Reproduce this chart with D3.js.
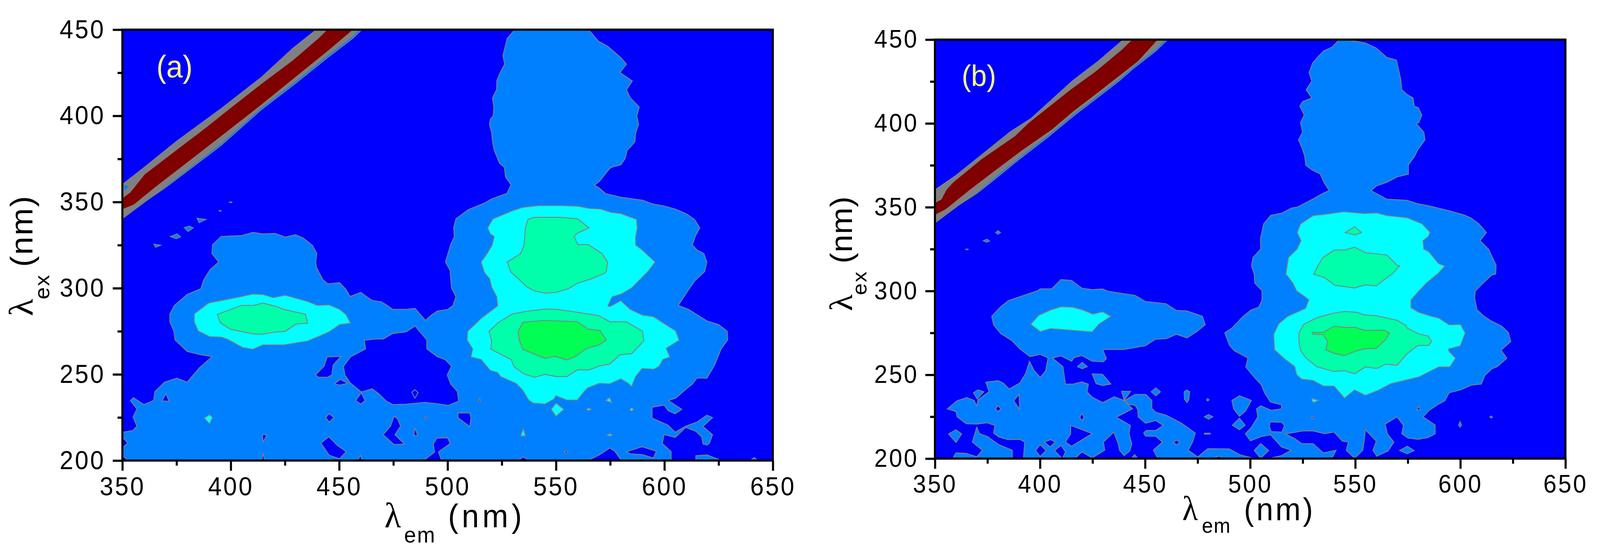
<!DOCTYPE html>
<html><head><meta charset="utf-8">
<script src="https://cdnjs.cloudflare.com/ajax/libs/d3/7.8.5/d3.min.js"></script>
<style>html,body{margin:0;padding:0;background:#fff;overflow:hidden;width:100%;height:100%}svg{display:block;width:100vw;height:100vh}text{font-family:"Liberation Sans",Arial,sans-serif;fill:#000}</style>
</head><body><svg id="c" viewBox="0 0 4328 1422" preserveAspectRatio="none"></svg>
<script>
// Contour outlines, as [emission nm, excitation nm] pairs.
const xMajor=[350,400,450,500,550,600,650], xMinor=[375,425,475,525,575,625];
const yMajor=[200,250,300,350,400,450], yMinor=[225,275,325,375,425];
const colors={bg:"#0000ff",l1:"#0080ff",l2:"#00ffff",l3:"#00ffaa",l4:"#00ff55",grey:"#808080",red:"#800000",line:"#808080",tag:"#ffff80"};

const aLevel1=[
[[531,450],[527.5,445],[525.5,435],[526.3,430],[524.2,425],[522.7,420.5],[522.6,415.3],[520.7,410.4],[521.3,405],[521,400],[519.7,398],[519.3,395],[520.3,390.3],[520.7,385],[521.5,380],[523.9,372.6],[526.2,370],[526.7,364.5],[529.2,360],[527.4,355],[520.3,351.8],[516.7,349.2],[509.6,345.6],[503.8,340.2],[502.8,335.2],[503.1,330],[501.4,325.3],[499,315.2],[501.2,310.2],[501.2,308.6],[501.8,300.2],[503.8,295],[502.4,289.8],[500,287.7],[495.2,286.7],[492.2,284.1],[489.8,281.3],[485,288.3],[480.9,287.7],[474.7,287.7],[471.8,290.3],[469.4,292.1],[465.2,292.9],[462.2,295.5],[460,297.6],[455,295.2],[453.2,299.2],[450.2,303.2],[444.8,302.5],[442.5,304.9],[440.9,308.6],[439.5,312.3],[439.2,315.4],[439.7,320.1],[437.7,324.8],[433.5,329],[429.9,331],[425.1,329.7],[420.3,331.8],[414.9,331.5],[410.2,332.4],[404.8,330.5],[395.6,330],[391.6,325.3],[391.3,320.1],[394.4,315.2],[390.4,310.7],[387.4,304.5],[386.2,299.7],[379.9,296.4],[373.9,289.9],[371.9,285.1],[371.9,280.4],[373.7,275.2],[374.3,270],[379.9,263.3],[385.6,261.5],[391.4,260.3],[385.6,253.9],[379.9,245.5],[375.1,247.8],[369.5,245.5],[365,240],[364.4,234.8],[359.9,232.5],[355.1,236.5],[353.7,234.8],[356.7,229.9],[354.9,225.2],[356.7,220],[354.8,217.4],[350,216.4],[350,200],[603.1,200],[603.1,205.2],[599,209.9],[599.9,215.1],[605,213.4],[609.8,219.2],[614.6,216.9],[617.2,213.8],[617.8,209.6],[619.6,209],[620.8,210.1],[622.2,215],[617.8,219.8],[622.2,224.9],[619.6,226.3],[615,222.3],[609.8,220],[605,216.4],[601.7,220.5],[594.3,224.7],[594.3,230.9],[599.9,232.2],[601.7,228.9],[605,227.1],[608,229.7],[601.9,234.8],[605.2,236.2],[609.4,240.8],[613,244.5],[615,247.9],[619.6,247.8],[623.2,255.4],[626.2,264.8],[629.2,270],[629,275],[625,278.9],[619.6,281],[611.2,287.7],[606.4,290],[611.2,299.2],[614.2,304.5],[618.6,309.7],[619.6,315.2],[618.2,320.1],[615,322.2],[612.9,325.1],[614.2,330],[616.3,335],[613.9,339.9],[610.1,343.2],[605.2,345.8],[599.9,347.7],[594.5,348.9],[590,351],[579.5,352.9],[572.9,354.9],[570,358],[567.8,359.8],[570,361.9],[574.8,369.5],[576,370.3],[579.9,371.6],[581.9,375.2],[582.8,379.9],[586.4,384.9],[586.8,390.3],[588.1,395],[587.3,399.9],[588.4,405.1],[584.3,410.4],[582.5,415.1],[585.2,420.2],[579.5,425.1],[582.5,430],[579.9,433.8],[574,440.2],[569.6,443.3],[565,450]],
[[614.5,200],[614.5,202.8],[619.6,203.3],[625,200.7],[625,200]],
[[639.6,200],[641.4,201.8],[643,200]],
[[384.4,340.6],[388.6,339.9],[385.4,338]],
[[378.5,335.2],[380.9,336],[382.7,335],[380.3,332.9]],
[[372.1,330],[375.2,331.5],[376.9,329.8],[374.9,328.7]],
[[364.5,325.6],[367.7,324.9],[365.3,323.7]],
[[399.4,350],[400.7,350],[400,349.5]],
[[394.6,345],[395.6,345],[395.1,344.5]]
];
const aHoles=[
[[455.2,260.1],[462.2,264.8],[461.6,269.8],[466.9,270.5],[470.3,270.5],[474.7,273.7],[480.9,274.7],[485,278],[490.4,270],[490.4,264.8],[495.2,260.3],[498.8,258.6],[501.8,254.7],[499.8,249.7],[501.4,244.5],[504.5,240],[505.1,234.4],[500.2,232],[495.2,233],[489.2,233.8],[480.9,232.7],[474.7,232.5],[471.8,234.4],[468.2,238.8],[465.2,241.6],[460.2,239.8],[455.2,245],[452.6,249.7],[452,254.7]],
[[444.5,260.1],[450.8,260.4],[447.2,255.4],[446.6,249.7],[444.8,248.4],[440.4,248.3],[439.1,249.7],[443,254.7]],
[[450.5,247.1],[454,244.8],[450.2,243.8],[447.8,244.5]],
[[460.2,239.3],[461.9,234.8],[460,232.8],[457.6,234.8]],
[[370.1,238.8],[371.5,234.4],[368.3,234.6]],
[[445.4,227.1],[447.6,225],[445.4,222.3],[443.8,225]],
[[475.3,225.7],[476.9,224.2],[478.3,220],[475.7,215],[480.1,209.6],[475.3,209.3],[470.3,215],[473.7,220]],
[[414.6,215.1],[416.7,214.8],[414.9,210.9]],
[[445.2,213.8],[449,208.9],[453.2,205.2],[450.2,201],[445.4,203.1],[441.6,210.1]],
[[414.9,204.4],[415.5,200],[414.3,200]],
[[459.8,203.1],[460.6,200],[458.6,200]],
[[350,213.8],[352.5,210.1],[350,207.5]],
[[350,203],[352.7,200],[350,200]],
[[484.9,241.1],[486.4,239.3],[484.9,236.2],[483.5,239.6]],
[[504.8,227.6],[510.2,227.6],[510.8,224.7],[510.2,219.7],[504.8,224.9]],
[[484.8,219],[486.2,214.5],[484.5,214.5]],
[[495,213],[500,213.2],[501.2,209.9],[495.8,205],[497.2,200],[489,200],[494,204.9],[493.4,209.6]],
[[534.9,202.1],[537.7,200],[532.3,200]],
[[574.8,207.3],[577.1,205.4],[580.1,200],[564.6,200],[570,203.3]],
[[582.5,205.1],[589.7,208],[596.3,205.4],[594.8,201.5],[589.7,203.5],[584.3,203.9]],
[[489.2,224.9],[489.8,225.5],[490.5,224.9],[489.8,224.2]],
[[514.9,236],[515.2,234.2],[514.2,234.6]],
[[553.8,204.9],[554.7,205.4],[555.6,204.9],[554.7,204.1]]
];
const aLevel2=[
[[383.2,285.1],[389.8,291.4],[403.6,294.8],[410.2,296.6],[414.9,296.3],[419.7,294.5],[425.1,295.9],[435.2,292.4],[440,290],[445.4,290.3],[450.2,287.7],[453.2,284.6],[455.2,279.7],[450.2,278.9],[445.4,274.7],[440.7,272.1],[435.3,269.3],[424.5,267.1],[414.9,267.1],[410.2,264.6],[405.4,265.6],[398.8,270.2],[395.8,271.6],[390.2,271.9],[385,275.2],[383.2,280.4]],
[[520.9,340.2],[530.1,345],[534.7,346.9],[541.9,347.9],[552.6,347.9],[560.4,347.5],[565.2,346.3],[570.6,345.9],[575.3,344],[579.9,343.3],[587.1,339.9],[587.5,335],[586.7,330],[586.7,325.1],[589.7,322.2],[595.7,315.2],[592.7,310.2],[591.5,308.6],[584.9,300.2],[580.1,296.6],[575.9,295],[573.9,289.8],[574.8,289.3],[579.9,292.7],[584.3,287.7],[589.7,284.4],[595.1,283.4],[599.3,279.9],[605.2,275.2],[606.8,269.8],[600.8,265.1],[602.5,260.1],[599.3,258.6],[597.5,254.6],[595.1,253],[589.7,253.4],[586.7,248.7],[584.9,243.1],[583.1,245],[579.9,247.4],[574.8,244.5],[570,244.8],[564.6,242.2],[562.8,239.8],[559.8,235.1],[554.8,235.1],[549.9,237.7],[549,235.6],[544.9,232.8],[539.5,233.3],[537.4,235.1],[534.7,240.8],[531.7,244.7],[524.5,248.7],[523,251.1],[519.7,252.3],[515.5,258.6],[510.8,260.1],[511.6,264.8],[509,270],[509.3,275],[515.5,282.5],[523.1,289.8],[522.7,295],[520.3,300.8],[519.4,305.5],[517.3,308.6],[516.7,310.2],[515.5,315.2],[518.5,320.6],[520.6,325.1],[521.5,330],[519.7,331.5],[518.5,335]],
[[390.2,226.6],[391.6,225],[390.2,221.3],[387.8,224.7]],
[[550,233.3],[553.6,229.7],[550,225.7],[547.8,229.7]],
[[574.8,236.5],[575.6,233.6],[573,234.9]],
[[564,229.7],[565,230.4],[566.3,229.7],[565,229]],
[[584,229.7],[584.8,230.6],[585.8,229.7],[584.8,228.7]],
[[534.9,218.4],[535.9,214.3],[533.7,214.3]],
[[573.6,214.8],[574.8,215.5],[576,214.8],[574.8,214.2]]
];
const aLevel3=[
[[537.1,339.9],[539.7,341.1],[552.6,341.1],[560,340.2],[565.2,335],[559.8,331.9],[558.4,330],[560,325.3],[564.8,325.3],[571.2,320.1],[573.8,315.2],[573.2,309.7],[572.4,308.6],[566.4,305.5],[559.8,302.8],[555.6,299.7],[550.2,297.6],[544.9,297.1],[540.1,298.4],[536.5,300.8],[533.5,304.4],[529.9,308.6],[529,309.7],[527.5,315.2],[533.7,320.1],[535.3,325.3],[535.9,335]],
[[519.1,275],[523.3,279.9],[529.9,285.1],[535.9,286.5],[544.9,287.9],[550.2,287.7],[557.4,286.5],[569.6,284.1],[574.8,280.6],[582.6,280.4],[589.9,275],[590.5,269.5],[584.9,262],[579.5,261.4],[574.8,256],[570,254.9],[565.2,252.6],[559.8,252.6],[555,248.7],[550.2,248.7],[544.9,250],[540.1,248.3],[535.3,250.2],[530.7,254.4],[529.3,258.6],[520,264.6],[520.3,269.5]],
[[393.8,284.8],[405,290],[410.5,290],[414.9,291.4],[420.3,289.6],[425.1,287.5],[434.4,284.9],[435.5,279.7],[430.1,279.2],[425.1,275],[420.3,274.5],[414.3,273.3],[410.2,273.5],[400,276.1],[395.2,279.9]]
];
const aLevel4=[
[[534.7,280.2],[544.3,281.3],[559.8,280.6],[564.6,276.3],[570.3,275.4],[573.2,270],[570,267.2],[564,265],[558.6,260.1],[555,258.4],[549.6,260.4],[544.9,259.3],[534.7,264.5],[533,270],[532.6,275]]
];
const aBandOuter=[[350,360.1],[360.5,370.5],[374.9,385.1],[395.2,403.8],[414.3,422.5],[428.7,439.2],[439.5,450],[460.4,450],[456.2,444.9],[445.4,434.5],[429.9,418.9],[414.3,403.8],[395.2,382.5],[370.1,358.6],[360.5,350.3],[350,340.4]];
const aBandGrey=[[350,360.1],[360.5,370.5],[374.9,385.1],[395.2,403.8],[414.3,422.5],[428.7,439.2],[439.5,450],[459,450],[456.2,446.3],[445.4,436],[429.9,420.3],[414.3,405.2],[395.2,383.8],[370.1,359.5],[360.5,350.3],[350,340.4]];
const aBandRed=[[350,351.8],[353.9,355.5],[360.5,365.9],[365.3,370.5],[376.1,380.9],[389.2,393.4],[396.4,400.7],[414.3,418.4],[428.7,431.9],[440.7,444.9],[444.8,450],[456,450],[445.4,438.7],[427.5,420.5],[414.3,407],[395.2,388.2],[379.7,373.1],[365.3,359.1],[355.1,348.7],[350,346.1]];
const aBandSpeck=[[[350.5,360],[353.2,359.4],[351,355.8]]];

const bLevel1=[
[[542.4,450],[539,445.6],[535.1,443.4],[532.4,440],[529.7,436],[528,430.3],[529.3,425.2],[526.6,420],[529.3,415.2],[524.9,413],[523.6,410.3],[525.7,405],[523.9,400.4],[524.9,394.8],[523,390.2],[524.8,384.9],[526,380.1],[526.4,375.1],[529.6,372.1],[533.3,369.9],[535.2,364.6],[537.6,359.9],[534.8,358.4],[530,355],[522.7,350.2],[519.7,349.5],[515.2,346.6],[509.7,345.1],[506.4,340],[504.9,331.4],[505,325],[501.3,320],[500.6,314.9],[501.9,310.2],[502.2,304.7],[505.6,300.2],[505.6,294.6],[504,290.3],[500.4,288.7],[496.7,284.9],[491.3,277.9],[487.9,275],[490.1,267.8],[492.3,264.5],[498.9,260],[497.9,254.7],[501.6,249],[505.2,244.2],[507,238.8],[509.7,233.7],[514.9,232.1],[514.9,229.7],[510,228.8],[505,231.5],[503,229.7],[503.6,224.9],[500.4,218.4],[497.7,214.9],[500.1,210.6],[505.2,213.1],[509.7,214.2],[514.9,206.9],[519.5,205],[514.9,201.8],[508.5,200],[538.8,200],[540.9,205],[534.8,203.4],[530,208.8],[524.5,209],[520.9,212.2],[516.7,214.7],[525.1,216.5],[530,216.5],[535.4,214.9],[539.9,215.8],[543.9,210.4],[546.7,209.9],[545.7,205],[549.7,200.2],[553.6,205],[554.4,212],[554.8,217.2],[560,210.4],[558.4,205],[560.2,201.5],[565.6,204.5],[568.4,209.9],[565.3,214.7],[564.2,220.6],[569.9,224.9],[572.9,219.8],[572.1,214.9],[575,212.3],[579.9,211.5],[584.4,212.5],[588,214.7],[588,220],[582.3,224.9],[585,228.6],[589.5,232.4],[592.6,234.5],[594.7,239.3],[600.1,241],[605.2,243.8],[610,244.5],[611.6,249.5],[614.9,253.5],[617.6,254.9],[622.1,259.9],[619.4,264.7],[624,269.9],[622.8,275.3],[619.7,279],[614.6,282.2],[611.3,284.9],[608,288.7],[606.8,295.6],[607.1,299.9],[610.4,304.2],[615,309.6],[616.8,310.1],[617,315.4],[613.4,325],[609.4,330],[612.4,334.9],[608.9,340],[604.9,343.7],[601.9,345.3],[595.3,347.7],[584.4,351],[579.6,352.1],[574.7,354.1],[565,354.8],[557.5,359.9],[560.2,362.8],[565,364.8],[569.9,368.1],[575.3,369.7],[575.3,375.3],[578.1,380.1],[579.8,384.4],[583.2,390.2],[582.6,394.8],[578.9,400.1],[580.2,400.4],[581.7,405],[579.9,409.5],[578.1,410.2],[577.5,415.2],[574.7,417.2],[572.1,420.2],[571.7,426.1],[569.6,437.8],[565,439.4],[559.9,445],[554.7,448],[548,449.5],[547.5,450]],
[[377,284.9],[381,290.3],[385,294.3],[398.9,300.2],[400.1,301.3],[405.5,301.3],[410,306.8],[415,306.3],[419.9,301.7],[424.8,300.8],[429.8,301.2],[432.2,299.9],[445.2,297.4],[450.1,293.8],[460,292.4],[464.9,288.4],[469.9,288.1],[477.3,284.9],[478.6,279.9],[474.6,275.8],[469.9,272],[464.9,274.2],[460,271.5],[454.9,271.2],[450.2,267.4],[440,265.1],[429.8,265.1],[431.6,259.7],[430.2,257.8],[424.8,258.1],[419.9,261.5],[416.2,260.2],[415,258.1],[410,261.3],[405.9,260],[410.9,254.9],[412.1,244.5],[415.6,244.4],[419.9,245.8],[423,244.4],[422.4,239.9],[424.8,236.7],[429.8,233.4],[435.3,236.9],[440,234.7],[444,229.7],[436.3,224.7],[443,219.8],[442.4,214.7],[443.7,208.8],[442.7,204.5],[440,201.8],[437.8,205],[437.2,208.8],[435.1,215.8],[430.2,209.9],[430.8,205],[424.8,200.4],[419.9,204],[416.6,200],[392.1,200],[392.7,209.9],[390.3,211.5],[384.7,211.3],[380.4,212.9],[377.9,215.2],[378.5,219.8],[374.8,221.4],[369.9,220.6],[364.9,220.8],[360.6,224.9],[360,228.1],[355.9,229.7],[360.6,234.5],[365.2,236.4],[368.6,234.7],[369.9,231.5],[370.5,235.1],[375.8,239.9],[374.2,245.6],[380,246.5],[382.6,245],[385.3,241.5],[390.3,245],[393.1,250.6],[395,258.1],[397.1,252.7],[400.1,248.5],[402.6,252.2],[403.8,260],[400.1,262.2],[395.2,260.8],[390.3,265.6],[386.6,270.4],[381.2,274.7],[377.9,279.8]],
[[440.3,234.7],[445.2,238.3],[450.4,238.3],[453.2,234.7],[453.2,230],[455.1,227.6],[460,225.9],[467.4,221.1],[473.9,215.2],[472.6,209.9],[470.5,205],[475.1,201],[474.9,200],[456.1,200],[453.9,205],[458.2,209.9],[455.1,213.3],[450.2,213.4],[449.3,215.2],[450.5,216.8],[455.1,216.8],[458.6,219.8],[455.1,222.7],[450.2,221.1],[446.7,224.9],[446.5,229.2],[445.2,231.8],[442.1,232.4]],
[[475.1,201],[479.8,205.9],[490.1,205.8],[494.9,202.4],[502.2,200],[487,200],[485.3,201.5],[482,200],[477,200]],
[[494.9,237.5],[500.6,234.7],[497.9,228.6],[494.9,225.2],[492.1,229.7],[491.3,234.7]],
[[494.9,224.1],[497.6,219.9],[494.9,217.2],[491.5,219.9]],
[[505,209],[508.8,204.8],[505,200.2],[501.9,204.8]],
[[574.7,207.4],[578,204.8],[574.7,202.9],[571.1,204.8]],
[[478.2,224.9],[480.2,226.3],[482.2,224.9],[480.2,223.5]],
[[479.2,235.1],[479.8,235.8],[480.4,235.1],[479.8,234.3]],
[[478.2,215.2],[481,215.2],[481,214.6],[478.2,214.6]],
[[599.9,222.1],[600.6,220],[599.9,218.8],[599.1,220]],
[[614,224.9],[614.7,225.4],[615.3,224.8],[614.7,224.2]],
[[370.5,241],[373.3,239.9],[370.1,235.6],[368.3,239.3]],
[[360,217.2],[362.7,214.7],[360,209.6],[356.5,214.7]],
[[369.9,218.8],[371.2,214.9],[375.1,213.1],[380.4,208.3],[386.8,205],[386.8,200],[358.4,200],[360,203.4],[364.9,203.1],[369.9,201.1],[372.6,205],[367.8,209.9]],
[[420.1,257.4],[422.5,254.9],[420.1,253.6],[417.8,254.9]],
[[424.8,250.6],[429.8,250.3],[433.7,244.5],[429.8,243.6],[426.7,244.7]],
[[438.8,240.2],[443.1,240.1],[440,234.7]],
[[455.1,242.2],[457.3,239.9],[455.1,237.5],[452.9,239.9]],
[[469.7,241],[471.2,239.9],[470.8,235.1],[469.9,233.4],[468.7,235.6],[468.6,239.9]],
[[445,202.4],[446.7,200],[443.4,200]],
[[378.9,334.9],[380,336],[381.2,334.9],[380,333.8]],
[[373,330],[374.8,330.9],[376,329.8],[374.6,329.1]],
[[364.6,325],[365.8,325],[365.8,324.7],[364.6,324.7]]
];
const bHoles=[
[[509.4,221.9],[514.9,221.7],[516.3,219.8],[515.1,215.8],[510,216.1],[509.2,219]],
[[580.2,231.1],[581,229.2],[579.2,229]],
[[529.1,224.5],[529.7,225.3],[530.2,224.5],[529.7,223.8]],
[[390,238.3],[390.3,229.5],[387.5,234.5]],
[[380,231.5],[381.4,229.7],[380,228.1],[378.8,229.7]],
[[419.9,226.8],[420.9,224.7],[419.9,222.5],[418.9,224.7]],
[[414.6,219.8],[424.8,214.9],[415,207.4],[412.1,209.9],[414.6,214.7]],
[[402,209.9],[405.1,211.3],[407.2,209.9],[404.8,207]],
[[400.1,208.3],[402.9,204.8],[400.1,201.3],[397.9,204.8]],
[[410,207.9],[412.1,204],[410.6,200],[406.9,204.8]],
[[463.5,209.6],[465,211.1],[466.5,209.6],[465,208.3]]
];
const bLevel2=[
[[395.6,280.1],[399.3,285.4],[405.1,288.7],[410,290.6],[415.6,290.3],[420.3,288.7],[425.2,286.2],[429.8,287.6],[433.7,284.9],[427.9,280.1],[424.8,275.6],[405.1,277.6],[400.1,275.8]],
[[530,345],[534.8,345.6],[544.5,347.3],[554.2,346.2],[560.2,346.6],[565,345],[574.7,343.7],[581.9,340],[585.6,334.9],[584.7,332.5],[582.2,330],[582.6,325],[585,323.4],[589.5,316.5],[592.6,314.9],[589.5,310.6],[583.8,304.7],[580.2,299.9],[576.5,294.6],[576.5,290],[580.2,287.3],[586.2,284.9],[589.8,283.8],[594.7,279.8],[600.1,280.1],[602.3,274.9],[599.9,267.2],[594.3,265.4],[594.7,263.8],[597.7,259.9],[595,254.7],[589.8,254.7],[580.2,248.7],[566.9,244.7],[561.4,241],[554.8,237.7],[549.7,241],[544.9,236.1],[539.9,243.3],[534.8,243.3],[530,246.6],[524.5,247.4],[522.1,250.1],[521.2,254.9],[516.7,259.2],[511.6,264.9],[511.2,274.2],[513.7,280.6],[517.9,284.9],[526.4,289.7],[527.9,294.9],[522.1,300.1],[520.3,304.7],[517,310.1],[518.2,320],[522.3,325],[524.2,330],[522.4,334.9],[524,340]],
[[529.4,235.9],[532.4,234.7],[530,233.4],[529.4,234.7]]
];
const bLevel3=[
[[549.7,338.3],[553,334.9],[549.8,333.5],[545.2,334.9]],
[[539.9,324.4],[545.1,324.5],[549.7,326.1],[554.8,322.9],[565,321.5],[569.9,315.4],[571.1,314.9],[567.5,310.1],[563.2,306.3],[560,303.1],[554.8,303.7],[549.7,301.8],[540.3,303.4],[535.4,308],[530.2,310],[532.4,315.4],[534.6,319.9]],
[[523.1,274.7],[525.4,280.1],[532.4,284.4],[539.7,286.8],[545.1,287.8],[550.5,287.3],[554.4,285.8],[560.2,285.2],[569.9,282.5],[574.1,279.5],[574.7,277.9],[580.2,274.4],[584.8,273.1],[586.3,269.9],[584.8,267.5],[579.8,267.5],[574.7,262.7],[569.9,255.7],[564.4,256.3],[560.2,253.8],[554.8,254.7],[549.7,250.6],[544.7,252.5],[539.7,252],[531.6,254.9],[526.4,260.2],[524,264.5],[523.3,268.8]]
];
const bLevel4=[
[[539.9,279],[545.1,278.2],[549.9,278.3],[554.8,276.5],[563.8,276.6],[566.3,274.9],[564.4,271],[560,265.8],[554.8,265.6],[549.9,264],[544.7,261.5],[539.7,262.9],[536,264.9],[536.9,269.9],[534.8,274],[529.7,274.2],[529.4,275.3],[534.8,275.3]]
];
const bBandOuter=[[350,360.3],[360,368.9],[385.9,395],[395.8,403],[415.6,425.5],[427.9,437.3],[439.7,450],[460.7,450],[455.1,443.2],[444.6,433],[437.8,425.5],[426.7,414.8],[415.6,404.1],[403.2,391.3],[387.8,376.3],[378.5,366.7],[369.9,358.2],[361.2,351.2],[350,340.7]];
const bBandGrey=[[350,360.3],[360,368.9],[385.9,395],[395.8,403],[415.6,425.5],[427.9,437.3],[439.7,450],[459.2,450],[455.1,444.5],[444.6,434.3],[437.8,426.8],[426.7,416.1],[415.6,405.4],[403.2,392.6],[387.8,377.6],[378.5,368],[369.9,359],[361.2,351.2],[350,340.7]];
const bBandRed=[[350,352.3],[353.2,354.4],[355.7,360.3],[358.8,364.6],[372.4,378.5],[388.4,392.4],[394.6,399.9],[414.3,419.6],[426.7,430.9],[439,443.7],[444.2,450],[455.7,450],[446.5,437.3],[427.9,419.1],[415.6,407.3],[405.7,396.7],[390.9,383.8],[378.5,372.1],[366.2,360.3],[355.1,349.1],[350,345.7]];

const svg=d3.select("#c");
function panel(id,box,layers,tag){
  const x=d3.scaleLinear().domain([350,650]).range([box.l,box.r]);
  const y=d3.scaleLinear().domain([200,450]).range([box.b,box.t]);
  const g=svg.append("g").attr("id",id);
  g.append("clipPath").attr("id",id+"clip").append("rect")
    .attr("x",box.l).attr("y",box.t).attr("width",box.r-box.l).attr("height",box.b-box.t);
  const plot=g.append("g").attr("clip-path",`url(#${id}clip)`);
  plot.append("rect").attr("x",box.l).attr("y",box.t).attr("width",box.r-box.l).attr("height",box.b-box.t).attr("fill",colors.bg);
  const line=d3.line().x(d=>x(d[0])).y(d=>y(d[1]));
  layers.forEach(([polys,fill,stroke])=>{
    plot.append("g").selectAll("path").data(polys).join("path")
      .attr("d",d=>line(d)+"Z").attr("fill",fill)
      .attr("stroke",stroke).attr("stroke-width",2.2).attr("stroke-linejoin","miter");
  });
  plot.append("text").attr("x",tag.x).attr("y",tag.y).attr("text-anchor","middle")
    .attr("font-size",tag.size).style("fill",colors.tag).text(tag.text);
  // frame
  g.append("path").attr("d",`M${box.l},${box.b}V${box.t}H${box.r}V${box.b}H${box.l}`)
    .attr("fill","none").attr("stroke","#000").attr("stroke-width",box.sw);
  const styleAxis=a=>{a.select(".domain").remove();a.selectAll("line").attr("stroke","#000").attr("stroke-width",box.sw);};
  const ax=(gen,vals,len,labels,pad,tr)=>{
    const s=g.append("g").attr("transform",tr).call(gen.tickValues(vals).tickSize(len).tickPadding(pad).tickFormat(labels?d3.format("d"):""));
    styleAxis(s);
    s.selectAll("text").attr("font-size",box.fs).style("letter-spacing",box.ls+"px");
    return s;
  };
  ax(d3.axisBottom(x),xMajor,box.major,true,box.padX,`translate(0,${box.b})`);
  ax(d3.axisBottom(x),xMinor,box.minor,false,box.padX,`translate(0,${box.b})`);
  ax(d3.axisLeft(y),yMajor,box.major,true,box.padY,`translate(${box.l},0)`);
  ax(d3.axisLeft(y),yMinor,box.minor,false,box.padY,`translate(${box.l},0)`);
  // axis titles
  const T=(tx,ty,txt,size,opts={})=>{
    const t=g.append("text").attr("font-size",size).text(txt);
    t.attr("transform",`translate(${tx},${ty})`+(opts.rot?" rotate(-90)":""));
    if(opts.serif)t.style("font-family","'Liberation Serif','DejaVu Serif',serif");
    if(opts.ls)t.style("letter-spacing",opts.ls+"px");
    return t;
  };
  box.titles.forEach(d=>T(...d));
}
panel("a",{l:331,r:2090.5,t:76,b:1180,sw:5.6,major:26,minor:13,padX:16,padY:20,fs:66,ls:4.5,
  titles:[
    [1040,1351,"λ",92,{serif:true}],
    [1093,1390,"em",58,{ls:3}],
    [1212,1351,"(nm)",84,{ls:9}],
    [88,810,"λ",92,{serif:true,rot:true}],
    [133,767,"ex",56,{rot:true,ls:3}],
    [88,684,"(nm)",84,{rot:true,ls:3}]
  ]},
  [[[aBandOuter],colors.l1,colors.line],[aLevel1,colors.l1,colors.line],[aHoles,colors.bg,colors.line],
   [aLevel2,colors.l2,colors.line],[aLevel3,colors.l3,colors.line],[aLevel4,colors.l4,colors.line],
   [[aBandGrey],colors.grey,colors.line],[aBandSpeck,colors.l1,colors.grey],[[aBandRed],colors.red,colors.red]],
  {x:472,y:198,size:80,text:"(a)"});
panel("b",{l:2529,r:4234.5,t:101.5,b:1175,sw:5.6,major:26,minor:13,padX:16,padY:18,fs:64,ls:4.5,
  titles:[
    [3198,1333,"λ",88,{serif:true}],
    [3251,1365,"em",54,{ls:2}],
    [3365,1333,"(nm)",82,{ls:6}],
    [2305,797,"λ",88,{serif:true,rot:true}],
    [2344,756,"ex",54,{rot:true,ls:3}],
    [2305,675,"(nm)",82,{rot:true,ls:1}]
  ]},
  [[[bBandOuter],colors.l1,colors.line],[bLevel1,colors.l1,colors.line],[bHoles,colors.bg,colors.line],
   [bLevel2,colors.l2,colors.line],[bLevel3,colors.l3,colors.line],[bLevel4,colors.l4,colors.line],
   [[bBandGrey],colors.grey,colors.line],[[bBandRed],colors.red,colors.red]],
  {x:2648,y:220,size:76,text:"(b)"});
</script></body></html>
